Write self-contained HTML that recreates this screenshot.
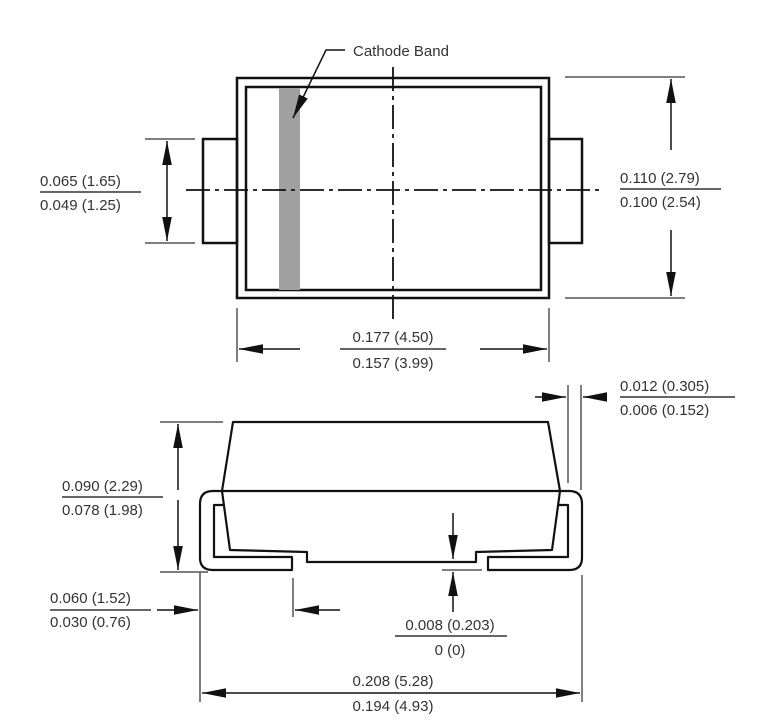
<!DOCTYPE html>
<html><head><meta charset="utf-8"><style>
html,body{margin:0;padding:0;background:#fff;}
svg{display:block;}
text{font-family:"Liberation Sans",sans-serif;font-size:15px;fill:#333;}
</style></head><body>
<svg width="777" height="723" viewBox="0 0 777 723" xmlns="http://www.w3.org/2000/svg">
<defs>
<marker id="a" viewBox="0 0 10 10" refX="10" refY="5" markerWidth="10" markerHeight="10" markerUnits="userSpaceOnUse" orient="auto"><path d="M0,1.5 L10,5 L0,8.5 z" fill="#111"/></marker>
<marker id="b" viewBox="0 0 20 10" refX="20" refY="5" markerWidth="24" markerHeight="12" markerUnits="userSpaceOnUse" orient="auto"><path d="M0,1 L20,5 L0,9 z" fill="#111"/></marker>
</defs>
<g fill="none" stroke="#111" stroke-width="2.5">
<!-- top view -->
<rect x="237" y="78" width="312" height="220"/>
<rect x="246" y="87" width="295" height="203"/>
<rect x="203" y="139" width="34" height="104"/>
<rect x="549" y="139" width="33" height="104"/>
</g>
<rect x="279" y="88" width="21" height="202" fill="#a0a0a0"/>
<g stroke="#111" stroke-width="1.8" fill="none">
<line x1="186" y1="190" x2="600" y2="190" stroke-dasharray="24,5,4,5"/>
<line x1="393" y1="67" x2="393" y2="322" stroke-dasharray="24,5,4,5"/>
<polyline points="345,50 326,50 293,118" stroke-width="1.5" marker-end="url(#b)"/>
</g>
<text x="353" y="56">Cathode Band</text>
<g stroke="#555" stroke-width="1.5" fill="none">
<line x1="145" y1="139" x2="195" y2="139"/>
<line x1="145" y1="243" x2="195" y2="243"/>
<line x1="565" y1="77" x2="685" y2="77"/>
<line x1="565" y1="298" x2="685" y2="298"/>
<line x1="237" y1="308" x2="237" y2="362"/>
<line x1="549" y1="308" x2="549" y2="362"/>
</g>
<g stroke="#111" stroke-width="1.5" fill="none">
<line x1="167" y1="190" x2="167" y2="141" marker-end="url(#b)"/>
<line x1="167" y1="190" x2="167" y2="241" marker-end="url(#b)"/>
<line x1="671" y1="150" x2="671" y2="79" marker-end="url(#b)"/>
<line x1="671" y1="230" x2="671" y2="296" marker-end="url(#b)"/>
<line x1="300" y1="349" x2="239" y2="349" marker-end="url(#b)"/>
<line x1="480" y1="349" x2="547" y2="349" marker-end="url(#b)"/>
<line x1="40" y1="192" x2="141" y2="192" stroke="#333"/>
<line x1="620" y1="189" x2="721" y2="189" stroke="#333"/>
<line x1="340" y1="349" x2="446" y2="349" stroke="#333"/>
</g>
<text x="40" y="186">0.065 (1.65)</text>
<text x="40" y="210">0.049 (1.25)</text>
<text x="620" y="183">0.110 (2.79)</text>
<text x="620" y="207">0.100 (2.54)</text>
<text x="393" y="342" text-anchor="middle">0.177 (4.50)</text>
<text x="393" y="368" text-anchor="middle">0.157 (3.99)</text>
<!-- side view -->
<g fill="none" stroke="#111" stroke-width="2.2" stroke-linejoin="round">
<path d="M233,422 L548,422 L560,491 L552,550 L476,552 L476,562 L307,562 L307,552 L230,550 L222,491 Z"/>
<line x1="222" y1="491" x2="560" y2="491"/>
<path d="M222,491 L213,491 Q200,491 200,504 L200,558 Q200,570 213,570 L292,570 L292,557 L214,557 L214,505 L224,505"/>
<path d="M560,491 L569,491 Q582,491 582,504 L582,558 Q582,570 569,570 L488,570 L488,557 L568,557 L568,505 L558,505"/>
</g>
<g stroke="#555" stroke-width="1.5" fill="none">
<line x1="568" y1="385" x2="568" y2="483"/>
<line x1="581" y1="385" x2="581" y2="490"/>
<line x1="160" y1="422" x2="223" y2="422"/>
<line x1="160" y1="572" x2="208" y2="572"/>
<line x1="200" y1="572" x2="200" y2="702"/>
<line x1="293" y1="578" x2="293" y2="617"/>
<line x1="582" y1="575" x2="582" y2="702"/>
<line x1="442" y1="570" x2="482" y2="570"/>
</g>
<g stroke="#111" stroke-width="1.5" fill="none">
<line x1="535" y1="397" x2="566" y2="397" marker-end="url(#b)"/>
<line x1="605" y1="397" x2="583" y2="397" marker-end="url(#b)"/>
<line x1="178" y1="490" x2="178" y2="424" marker-end="url(#b)"/>
<line x1="178" y1="500" x2="178" y2="570" marker-end="url(#b)"/>
<line x1="157" y1="610" x2="198" y2="610" marker-end="url(#b)"/>
<line x1="340" y1="610" x2="295" y2="610" marker-end="url(#b)"/>
<line x1="453" y1="513" x2="453" y2="559" marker-end="url(#b)"/>
<line x1="453" y1="612" x2="453" y2="572" marker-end="url(#b)"/>
<line x1="390" y1="693" x2="202" y2="693" marker-end="url(#b)"/>
<line x1="390" y1="693" x2="580" y2="693" marker-end="url(#b)"/>
<line x1="620" y1="397" x2="735" y2="397" stroke="#333"/>
<line x1="62" y1="497" x2="163" y2="497" stroke="#333"/>
<line x1="50" y1="610" x2="151" y2="610" stroke="#333"/>
<line x1="395" y1="636" x2="507" y2="636" stroke="#333"/>
</g>
<text x="620" y="391">0.012 (0.305)</text>
<text x="620" y="415">0.006 (0.152)</text>
<text x="62" y="491">0.090 (2.29)</text>
<text x="62" y="515">0.078 (1.98)</text>
<text x="50" y="603">0.060 (1.52)</text>
<text x="50" y="627">0.030 (0.76)</text>
<text x="450" y="630" text-anchor="middle">0.008 (0.203)</text>
<text x="450" y="655" text-anchor="middle">0 (0)</text>
<text x="393" y="686" text-anchor="middle">0.208 (5.28)</text>
<text x="393" y="711" text-anchor="middle">0.194 (4.93)</text>
</svg>
</body></html>
